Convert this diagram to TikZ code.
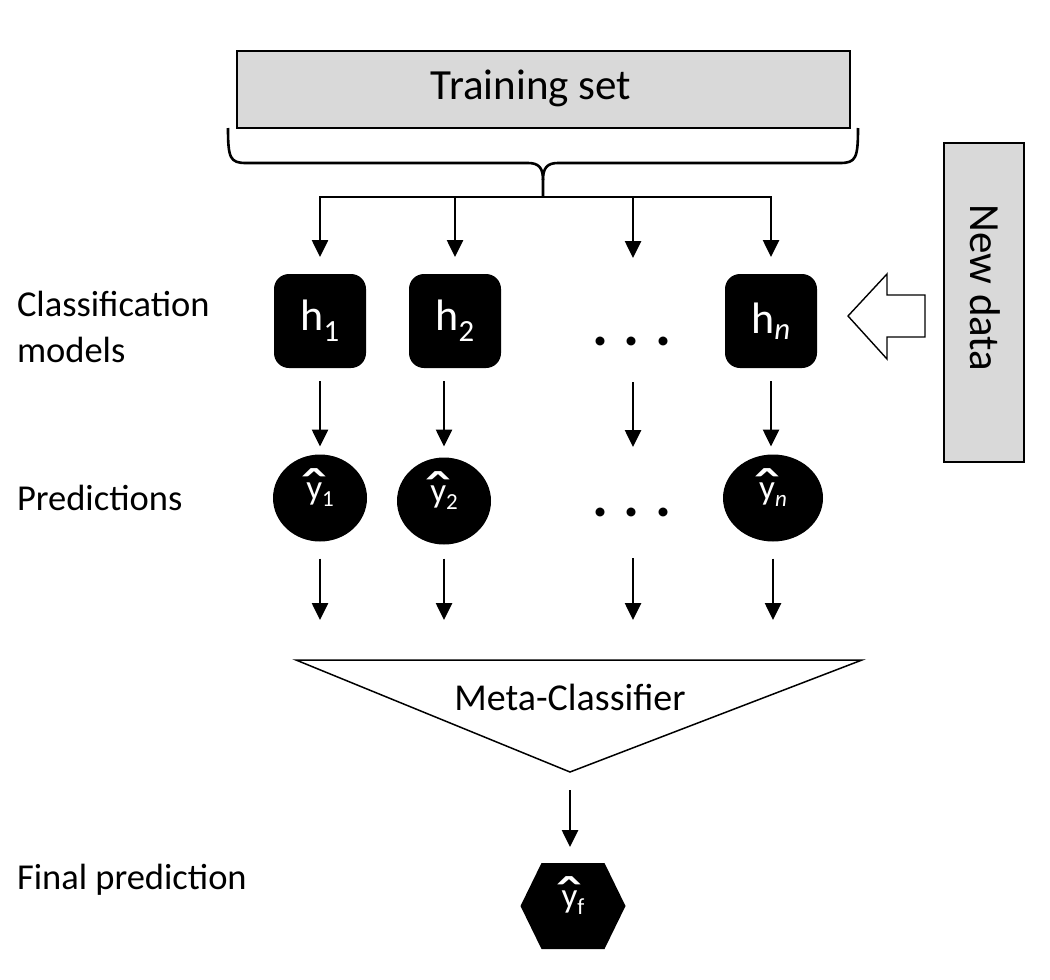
\documentclass[tikz,border=0pt]{standalone}
\usepackage{fontspec}
\setmainfont{Carlito}
\usetikzlibrary{arrows.meta,shapes.geometric,calc}

% y with a wide hat above it and a lowered subscript
\newcommand{\yhat}[1]{\ooalign{y\cr\hidewidth\raisebox{-0.40em}{\scalebox{2.3}[1.9]{ˆ}}\hidewidth\cr}%
  \raisebox{-0.2em}{\fontsize{23}{23}\selectfont #1}}

\begin{document}
\begin{tikzpicture}[x=1pt,y=-1pt,
  every node/.style={inner sep=0pt,outer sep=0pt},
  flow/.style={line width=2.6pt,-{Triangle[width=16pt,length=17pt]}},
  graybox/.style={draw=black,line width=2pt,fill=black!15},
  model/.style={fill=black,rounded corners=15pt,minimum width=92pt,minimum height=94pt,
                text=white,font=\fontsize{44}{46}\selectfont},
  pred/.style={ellipse,fill=black,minimum width=94pt,minimum height=87pt,
               text=white,font=\fontsize{35}{36}\selectfont},
  rowlabel/.style={anchor=west,align=left,font=\fontsize{36.5}{46}\selectfont},
  dots/.style={anchor=base,font=\fontsize{60}{60}\selectfont\bfseries}
]
\useasboundingbox (0,0) rectangle (1050,980);

% training set and the brace gathering it
\node[graybox,minimum width=613pt,minimum height=77pt] (train) at (543,89.5) {};
\node[font=\fontsize{43}{45}\selectfont] (traintxt) at (531,88) {Training set};
\coordinate (bl) at (228,128);
\coordinate (br) at (858,128);
\coordinate (tip) at (543,197);
\draw[line width=2.6pt]
  (bl) .. controls (228,158) and (230,163) .. (246,163) -- (528,163)
       .. controls (539,163) and (543,168) .. (543,180) -- (tip);
\draw[line width=2.6pt]
  (br) .. controls (858,158) and (856,163) .. (840,163) -- (558,163)
       .. controls (547,163) and (543,168) .. (543,180);

% classification models
\node[model] (h1) at (320,321) {h\textsubscript{1}};
\node[model] (h2) at (455,321) {h\textsubscript{2}};
\node[dots] (d1) at (632,345.5) {.\hspace{15pt}.\hspace{15pt}.};
\node[model] (hn) at (771,321) {h\textsubscript{\itshape n}};
\coordinate (c1) at (633,275);
\coordinate (c2) at (633,455);
\coordinate (c3) at (633,540);

% predictions
\node[pred] (y1) at (320,498) {\yhat{1}};
\node[pred] (y2) at (444,501) {\yhat{2}};
\node[dots] (d2) at (632,516.5) {.\hspace{15pt}.\hspace{15pt}.};
\node[pred,minimum width=100pt] (yn) at (773,498) {\yhat{\itshape n}};

% meta-classifier funnel
\coordinate (m1) at (296,660);
\coordinate (m2) at (862,660);
\coordinate (m3) at (570,772);
\draw[line width=1.5pt,line join=miter] (m1) -- (m2) -- (m3) -- cycle;
\node[font=\fontsize{38}{40}\selectfont] (meta) at (570,697) {Meta-Classifier};

% final prediction
\coordinate (yfc) at (573,906);
\fill ($(yfc)+(-52.5,0)$) -- ++(21,-43) -- ++(63,0) -- ++(21,43) -- ++(-21,43) -- ++(-63,0) -- cycle;
\node[text=white,minimum width=105pt,minimum height=86pt,
      font=\fontsize{35}{36}\selectfont] (yf) at (yfc) {\yhat{f}};

% new data and its hollow arrow
\node[graybox,minimum width=80pt,minimum height=319pt] (new) at (984,302.5) {};
\node[rotate=-90,font=\fontsize{43}{45}\selectfont] (newtxt) at (985,288) {New data};
\draw[line width=1.4pt,fill=white,line join=miter]
  (848,316) -- (887,274) -- (887,295) -- (925,295) -- (925,337) -- (887,337) -- (887,359) -- cycle;

% row labels
\node[rowlabel] (lab1) at (17,327) {Classification\\models};
\node[rowlabel] (lab2) at (17,498) {Predictions};
\node[rowlabel] (lab3) at (17,880) {Final prediction};

% training set to models
\draw[line width=2.6pt] (h1.north |- tip) -- (hn.north |- tip);
\draw[flow,shorten >=17pt] (tip) -| (h1.north);
\draw[flow,shorten >=17pt] (tip) -| (h2.north);
\draw[flow,shorten >=17pt] (tip) -| (c1);
\draw[flow,shorten >=17pt] (tip) -| (hn.north);

% models to predictions
\draw[flow,shorten <=13pt,shorten >=8pt] (h1.south) -- (h1.south |- y1.north);
\draw[flow,shorten <=13pt,shorten >=11pt] (h2.south -| y2) -- (y2.north);
\draw[flow,shorten <=107pt,shorten >=8pt] (c1) -- (c2);
\draw[flow,shorten <=13pt,shorten >=8pt] (hn.south) -- (hn.south |- yn.north);

% predictions to meta-classifier
\draw[flow,shorten <=17pt,shorten >=40pt] (y1.south) -- (y1.south |- m1);
\draw[flow,shorten <=14pt,shorten >=40pt] (y2.south) -- (y2.south |- m1);
\draw[flow,shorten <=18pt,shorten >=40pt] (c3) -- (c3 |- m1);
\draw[flow,shorten <=17pt,shorten >=40pt] (yn.south) -- (yn.south |- m1);

% meta-classifier to final prediction
\draw[flow,shorten <=18pt,shorten >=16pt] (m3) -- (m3 |- yf.north);
\end{tikzpicture}
\end{document}
